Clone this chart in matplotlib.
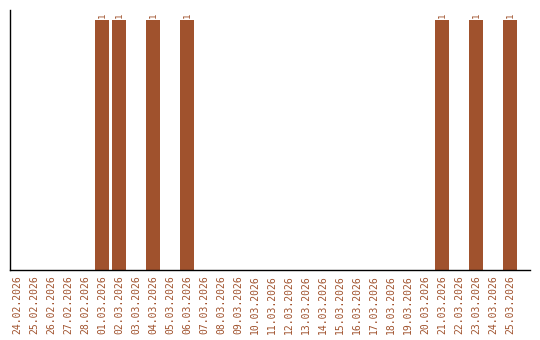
import matplotlib
matplotlib.use("Agg")
import matplotlib.pyplot as plt

DATES = ["24.02.2026", "25.02.2026", "26.02.2026", "27.02.2026", "28.02.2026",
         "01.03.2026", "02.03.2026", "03.03.2026", "04.03.2026", "05.03.2026",
         "06.03.2026", "07.03.2026", "08.03.2026", "09.03.2026", "10.03.2026",
         "11.03.2026", "12.03.2026", "13.03.2026", "14.03.2026", "15.03.2026",
         "16.03.2026", "17.03.2026", "18.03.2026", "19.03.2026", "20.03.2026",
         "21.03.2026", "22.03.2026", "23.03.2026", "24.03.2026", "25.03.2026"]
COUNTS = [0, 0, 0, 0, 0,
          1, 1, 0, 1, 0,
          1, 0, 0, 0, 0,
          0, 0, 0, 0, 0,
          0, 0, 0, 0, 0,
          1, 0, 1, 0, 1]
COLOR = "#A0522D"

fig = plt.figure(figsize=(5.4, 3.4), dpi=100)
ax = fig.add_axes([10 / 540, 70 / 340, 520 / 540, 260 / 340])

x = list(range(len(DATES)))
ax.bar(x, COUNTS, width=0.8, color=COLOR)
for xi, v in zip(x, COUNTS):
    if v > 0:
        ax.text(xi, v + 0.008, str(v), rotation=90, ha="center", va="bottom",
                color=COLOR, fontsize=6.5, family="DejaVu Sans Mono")

ax.set_xlim(-0.41, 30.18)
ax.set_ylim(0, 1.04)
ax.set_xticks(x)
ax.set_xticklabels(DATES, rotation=90, color=COLOR, fontsize=7,
                   family="DejaVu Sans Mono")
ax.tick_params(axis="x", length=0, pad=4)
ax.set_yticks([])
ax.spines["top"].set_visible(False)
ax.spines["right"].set_visible(False)
ax.spines["left"].set_linewidth(1)
ax.spines["bottom"].set_linewidth(1)

fig.savefig("out.png", dpi=100)
